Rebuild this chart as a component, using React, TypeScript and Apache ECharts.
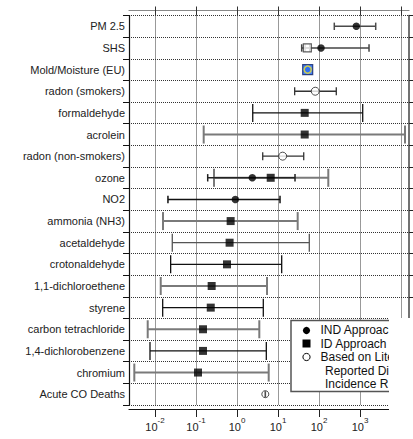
import React, { useEffect, useRef } from 'react';
import * as echarts from 'echarts';

// ---------- data ----------
const categories = [
  'PM 2.5',
  'SHS',
  'Mold/Moisture (EU)',
  'radon (smokers)',
  'formaldehyde',
  'acrolein',
  'radon (non-smokers)',
  'ozone',
  'NO2',
  'ammonia (NH3)',
  'acetaldehyde',
  'crotonaldehyde',
  '1,1-dichloroethene',
  'styrene',
  'carbon tetrachloride',
  '1,4-dichlorobenzene',
  'chromium',
  'Acute CO Deaths',
];

// IND approach (filled circles)
const indCats = ['PM 2.5', 'SHS', 'ozone', 'NO2'];
const indValues = [813, 112, 2.36, 0.91];
const indLow = [236, 37.8, 0.193, 0.0207];
const indHigh = [2415, 1660, 26.0, 11.2];

// ID approach (filled squares)
const idCats = [
  'formaldehyde',
  'acrolein',
  'ozone',
  'ammonia (NH3)',
  'acetaldehyde',
  'crotonaldehyde',
  '1,1-dichloroethene',
  'styrene',
  'carbon tetrachloride',
  '1,4-dichlorobenzene',
  'chromium',
];
const idValues = [44.8, 44.8, 6.64, 0.7, 0.66, 0.57, 0.241, 0.229, 0.148, 0.148, 0.112];
const idLow = [2.42, 0.154, 0.275, 0.0157, 0.0264, 0.0241, 0.0138, 0.0154, 0.00664, 0.00755, 0.00313];
const idHigh = [1164, 12530, 168.6, 30.2, 58, 12.3, 5.4, 4.38, 3.5, 5.19, 5.93];

// Based on literature reported disease incidence rates (open circles)
const litCats = ['radon (smokers)', 'radon (non-smokers)'];
const litValues = [81, 13.0];
const litLow = [25.5, 4.24];
const litHigh = [264, 42.4];

// SHS open square
const shsSquareCats = ['SHS'];
const shsSquareValues = [51.9];
const shsSquareLow = [45.7];
const shsSquareHigh = [59];

// Mold / Moisture (EU) and Acute CO deaths
const moldCats = ['Mold/Moisture (EU)'];
const moldValues = [53];
const coCats = ['Acute CO Deaths'];
const coValues = [4.9];

const xTicks = [0.01, 0.1, 1, 10, 100, 1000, 10000];
const xMin = Math.pow(10, -2.634);
const xMax = Math.pow(10, 4.195);

const legendLabels = ['IND Approach', 'ID Approach', 'Based on Literature', 'Reported Disease', 'Incidence Rates'];

// ---------- styles ----------
const FONT = 'Liberation Sans, Arial, sans-serif';
const grayIdBars = ['acrolein', 'ozone', 'ammonia (NH3)', '1,1-dichloroethene', 'carbon tetrachloride', 'chromium'];
const midIdBars = ['acetaldehyde'];
const indBarColor: Record<string, string> = { 'PM 2.5': '#4a4a4a', SHS: '#444', ozone: '#222', NO2: '#111' };

const catIndex = (c: string) => categories.indexOf(c);

function barSeries(
  cats: string[],
  low: number[],
  high: number[],
  capHalf: number,
  colorFor: (c: string) => string,
  widthFor: (c: string) => number,
  z: number
) {
  return {
    type: 'custom',
    xAxisIndex: 2,
    yAxisIndex: 1,
    z,
    clip: false,
    data: cats.map((c, i) => [low[i], high[i], catIndex(c)]),
    encode: { x: [0, 1], y: 2 },
    renderItem: (params: any, api: any) => {
      const a = api.coord([api.value(0), api.value(2)]);
      const b = api.coord([api.value(1), api.value(2)]);
      const c = cats[params.dataIndex];
      const style = { stroke: colorFor(c), lineWidth: widthFor(c) };
      return {
        type: 'group',
        children: [
          { type: 'line', shape: { x1: a[0], y1: a[1], x2: b[0], y2: b[1] }, style },
          { type: 'line', shape: { x1: a[0], y1: a[1] - capHalf, x2: a[0], y2: a[1] + capHalf }, style },
          { type: 'line', shape: { x1: b[0], y1: b[1] - capHalf, x2: b[0], y2: b[1] + capHalf }, style },
        ],
      };
    },
  };
}

function scatter(cats: string[], values: number[], extra: any) {
  return {
    type: 'scatter',
    xAxisIndex: 2,
    yAxisIndex: 1,
    data: values.map((v, i) => [v, catIndex(cats[i])]),
    ...extra,
  };
}

function legendText(text: string, x: number, y: number) {
  return {
    type: 'text',
    z: 51,
    x,
    y,
    style: {
      text,
      font: '12px ' + FONT,
      fill: '#111',
      verticalAlign: 'middle',
      width: 396 - x,
      overflow: 'truncate',
      ellipsis: '',
    },
  };
}

export default function App() {
  const ref = useRef<HTMLDivElement>(null);

  useEffect(() => {
    if (!ref.current) return;
    const chart = echarts.init(ref.current, null, { renderer: 'svg' });

    const dotted = { type: [1, 1], color: '#333', width: 1 };

    const option: any = {
      animation: false,
      backgroundColor: '#fff',
      textStyle: { fontFamily: FONT },
      grid: [
        { left: 129, right: 4, top: 10.5, bottom: 30, containLabel: false },
        { left: 129, right: 4, top: 15.5, bottom: 34, containLabel: false },
      ],
      xAxis: [
        {
          gridIndex: 0,
          type: 'log',
          position: 'bottom',
          min: xMin,
          max: xMax,
          axisLine: { show: true, lineStyle: { color: '#111', width: 1.2 } },
          axisTick: { show: true, inside: false, length: 8, lineStyle: { color: '#222' }, customValues: xTicks },
          splitLine: { show: false },
          axisLabel: {
            show: true,
            margin: 7,
            customValues: xTicks,
            formatter: (v: number) => {
              const e = Math.round(Math.log10(v));
              if (e < -2 || e > 3) return '';
              return '{b|10}{s|' + e + '}';
            },
            rich: {
              b: { fontSize: 11, fontFamily: FONT, color: '#222', padding: [5, 0, 0, 0] },
              s: { fontSize: 8, fontFamily: FONT, color: '#222', verticalAlign: 'top' },
            },
          },
        },
        {
          gridIndex: 0,
          type: 'log',
          position: 'top',
          min: xMin,
          max: xMax,
          axisLine: { show: true, lineStyle: { color: '#888', width: 1.2 } },
          axisTick: { show: false },
          axisLabel: { show: false },
          splitLine: { show: false },
        },
        {
          gridIndex: 1,
          type: 'log',
          position: 'top',
          min: xMin,
          max: xMax,
          axisLine: { show: false },
          axisTick: { show: true, inside: false, length: 9, lineStyle: { color: '#333' }, customValues: xTicks },
          axisLabel: { show: false },
          splitLine: { show: true, lineStyle: dotted },
        },
      ],
      yAxis: [
        { gridIndex: 0, type: 'value', show: false, min: 0, max: 1 },
        {
          gridIndex: 1,
          type: 'category',
          data: categories,
          inverse: true,
          position: 'left',
          axisLine: { show: true, lineStyle: { color: '#111', width: 1.2 } },
          axisTick: { show: true, inside: false, length: 6, lineStyle: { color: '#111' } },
          axisLabel: { show: true, margin: 4, fontSize: 11, fontFamily: FONT, color: '#222' },
          splitLine: { show: true, lineStyle: dotted },
        },
        {
          gridIndex: 1,
          type: 'category',
          data: categories,
          inverse: true,
          position: 'right',
          axisLine: { show: true, lineStyle: { color: '#444', width: 1.5 } },
          axisTick: { show: true, inside: false, length: 4, lineStyle: { color: '#222' } },
          axisLabel: { show: false },
          splitLine: { show: false },
        },
      ],
      series: [
        barSeries(
          idCats,
          idLow,
          idHigh,
          9,
          (c) => (grayIdBars.includes(c) ? '#7a7a7a' : midIdBars.includes(c) ? '#555' : '#111'),
          (c) => (grayIdBars.includes(c) ? 2 : 1.3),
          2
        ),
        barSeries(indCats, indLow, indHigh, 3.7, (c) => indBarColor[c] || '#222', () => 1.5, 3),
        barSeries(litCats, litLow, litHigh, 4, () => '#333', () => 1.3, 3),
        barSeries(shsSquareCats, shsSquareLow, shsSquareHigh, 3.7, () => '#444', () => 1.3, 3),
        scatter(idCats, idValues, {
          symbol: 'rect',
          symbolSize: 8,
          itemStyle: { color: '#000' },
          z: 5,
        }),
        scatter(shsSquareCats, shsSquareValues, {
          symbol: 'rect',
          symbolSize: 8,
          itemStyle: { color: '#fff', borderColor: '#333', borderWidth: 1.2 },
          z: 5,
        }),
        scatter(indCats, indValues, {
          symbol: 'circle',
          symbolSize: 7.5,
          itemStyle: { color: '#000' },
          z: 6,
        }),
        scatter(litCats, litValues, {
          symbol: 'circle',
          symbolSize: 8,
          itemStyle: { color: '#fff', borderColor: '#222', borderWidth: 1 },
          z: 6,
        }),
        scatter(moldCats, moldValues, {
          symbol: 'rect',
          symbolSize: 10,
          itemStyle: { color: '#1c64f2', borderColor: '#0b1f66', borderWidth: 1.2 },
          z: 6,
        }),
        scatter(moldCats, moldValues, {
          symbol: 'circle',
          symbolSize: 7,
          itemStyle: { color: '#2a6cf5', borderColor: '#f2e424', borderWidth: 1.5 },
          z: 7,
        }),
        scatter(coCats, coValues, {
          symbol: 'circle',
          symbolSize: 7,
          itemStyle: { color: '#fff', borderColor: '#222', borderWidth: 1 },
          z: 6,
        }),
        scatter(coCats, coValues, {
          symbol: 'rect',
          symbolSize: [1.6, 6],
          itemStyle: { color: '#222' },
          z: 7,
        }),
      ],
      graphic: [
        {
          type: 'rect',
          z: 50,
          shape: { x: 291, y: 320.5, width: 130, height: 71 },
          style: { fill: '#fff', stroke: '#555', lineWidth: 1.5 },
        },
        { type: 'circle', z: 51, shape: { cx: 306.5, cy: 330.5, r: 3.6 }, style: { fill: '#000' } },
        { type: 'rect', z: 51, shape: { x: 302.5, y: 339.5, width: 8, height: 8 }, style: { fill: '#000' } },
        {
          type: 'circle',
          z: 51,
          shape: { cx: 306.5, cy: 357, r: 3.6 },
          style: { fill: '#fff', stroke: '#000', lineWidth: 1 },
        },
        legendText(legendLabels[0], 320.5, 330),
        legendText(legendLabels[1], 320.5, 343.5),
        legendText(legendLabels[2], 320.5, 357),
        legendText(legendLabels[3], 325, 370.5),
        legendText(legendLabels[4], 325, 384),
        {
          type: 'rect',
          z: 60,
          shape: { x: 389, y: 318, width: 30, height: 125 },
          style: { fill: '#fff' },
        },
      ],
    };

    chart.setOption(option);
    return () => chart.dispose();
  }, []);

  return <div ref={ref} style={{ width: 413, height: 439, position: 'absolute', left: 0, top: 0 }} />;
}
